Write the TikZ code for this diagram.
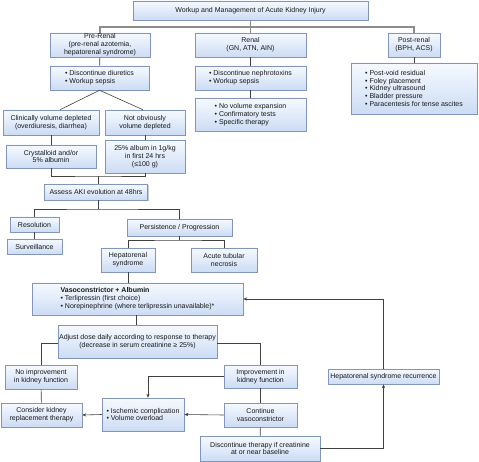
\documentclass[tikz,border=0pt]{standalone}
\usepackage{fontspec}
\setmainfont{Liberation Sans}
\usetikzlibrary{shadows,arrows.meta}
\definecolor{bxborder}{RGB}{130,150,188}
\definecolor{bxtop}{RGB}{246,250,255}
\definecolor{bxbot}{RGB}{204,220,244}
\definecolor{lncol}{RGB}{65,65,65}
\tikzset{
  bx/.style={draw=bxborder, line width=0.5pt, top color=bxtop, bottom color=bxbot,
    drop shadow={shadow xshift=1.2pt, shadow yshift=-1.2pt, fill=black!35, opacity=0.6},
    align=center, inner sep=1pt, font=\fontsize{7}{7.9}\selectfont, text=black!90},
  bl/.style={bx, align=left},
  ln/.style={draw=lncol, line width=0.6pt},
  trunk/.style={draw=black!45, line width=1.1pt},
  arr/.style={ln, -{Stealth[length=4pt,width=3.2pt]}},
}
\newcommand{\bxat}[6]{\node[#1, minimum width=#4pt, minimum height=#5pt] (#2) at (#3) {#6};}
\begin{document}
\begin{tikzpicture}[x=1pt,y=-1pt]
\useasboundingbox (0,0) rectangle (479,462);
% boxes
\bxat{bx}{top}{250.5,10.5}{235}{19}{Workup and Management of Acute Kidney Injury}
\bxat{bx}{pre}{100,45}{100}{24}{Pre-Renal\\(pre-renal azotemia,\\hepatorenal syndrome)}
\bxat{bx}{renal}{250.5,45}{111}{24}{Renal\\(GN, ATN, AIN)}
\bxat{bx}{post}{414,45}{52}{24}{Post-renal\\(BPH, ACS)}
\bxat{bl}{disc}{99.5,78}{99}{24}{• Discontinue diuretics\\• Workup sepsis}
\bxat{bl}{nephro}{250.5,78}{111}{24}{• Discontinue nephrotoxins\\• Workup sepsis}
\bxat{bl}{novol}{250.5,114.5}{111}{33}{• No volume expansion\\• Confirmatory tests\\• Specific therapy}
\bxat{bl}{postb}{414,88.5}{126}{51}{• Post-void residual\\• Foley placement\\• Kidney ultrasound\\• Bladder pressure\\• Paracentesis for tense ascites}
\bxat{bx}{clin}{51,122.5}{96}{25}{Clinically volume depleted\\(overdiuresis, diarrhea)}
\bxat{bx}{notob}{145,122.5}{80}{25}{Not obviously\\volume depleted}
\bxat{bx}{cryst}{51,156.5}{90}{23}{Crystalloid and/or\\5\% albumin}
\bxat{bx}{alb}{145,156.5}{80}{33}{25\% album in 1g/kg\\in first 24 hrs\\(≤100 g)}
\bxat{bx}{assess}{96,192}{103}{16}{Assess AKI evolution at 48hrs}
\bxat{bx}{resol}{34.5,224.5}{49}{15}{Resolution}
\bxat{bx}{surv}{34.5,246.5}{55}{15}{Surveillance}
\bxat{bx}{persist}{179.5,227.5}{105}{17}{Persistence / Progression}
\bxat{bx}{hrs}{128,260}{54}{24}{Hepatorenal\\syndrome}
\bxat{bx}{atn}{224,260}{66}{24}{Acute tubular\\necrosis}
\bxat{bl}{vaso}{137.5,299}{211}{32}{\textbf{Vasoconstrictor + Albumin}\\• Terlipressin (first choice)\\• Norepinephrine (where terlipressin unavailable)*}
\bxat{bx}{adjust}{137.5,341.5}{159}{33}{Adjust dose daily according to response to therapy\\(decrease in serum creatinine ≥ 25\%)}
\bxat{bx}{noimp}{41,377}{72}{24}{No improvement\\in kidney function}
\bxat{bx}{consider}{41.5,415}{81}{24}{Consider kidney\\replacement therapy}
\bxat{bl}{isch}{143,414.5}{82}{33}{• Ischemic complication\\• Volume overload}
\bxat{bx}{imp}{260.5,376.5}{73}{23}{Improvement in\\kidney function}
\bxat{bx}{cont}{260.5,415}{73}{24}{Continue\\vasoconstrictor}
\bxat{bx}{discont}{260,448.5}{120}{25}{Discontinue therapy if creatinine\\at or near baseline}
\bxat{bx}{recur}{383.5,376.5}{111}{15}{Hepatorenal syndrome recurrence}
% connectors
\coordinate (hb) at (250.5,27);
\draw[trunk] (top.south) -- (hb);
\draw[trunk] (pre.north) |- (hb) -| (post.north);
\draw[trunk] (hb) -- (renal.north);
\draw[ln] (pre) -- (disc);
\draw[ln] (renal) -- (nephro);
\draw[ln] (nephro) -- (novol);
\draw[ln] (post) -- (postb);
\draw[ln] (disc.south) -- ([xshift=9pt]clin.north);
\draw[ln] (disc.south) -- ([xshift=-2pt]notob.north);
\draw[ln] (clin) -- (cryst);
\draw[ln] (notob) -- (alb);
\coordinate (j1) at (98,176);
\draw[ln] (cryst.south) |- (j1) -| (alb.south);
\draw[ln] (j1) -- (j1 |- assess.north);
\coordinate (j2) at (98,209);
\draw[ln] (j2 |- assess.south) -- (j2);
\draw[ln] (resol.north) |- (j2) -| (persist.north);
\draw[ln] (resol) -- (surv);
\coordinate (j3) at (179.5,240);
\draw[ln] (persist.south) -- (j3);
\draw[ln] (hrs.north) |- (j3) -| (atn.north);
\draw[ln] (hrs.south) -- (hrs.south |- vaso.north);
\draw[ln] (vaso.south -| 136.5,0) -- (adjust.north -| 136.5,0);
\draw[ln] (adjust.west |- 0,343) -| (noimp.north);
\draw[ln] (adjust.east |- 0,343) -| (imp.north);
\draw[ln] (noimp) -- (consider);
\draw[arr] (isch.west) -- (consider.east);
\draw[arr] (imp.west) -| ([xshift=5pt]isch.north);
\draw[ln] (imp) -- (cont);
\draw[arr] (cont.west) -- (isch.east);
\draw[ln] (cont) -- (discont);
\draw[arr] (discont.east) -| (recur.south);
\draw[arr] (recur.north) |- (vaso.east);
\end{tikzpicture}
\end{document}
